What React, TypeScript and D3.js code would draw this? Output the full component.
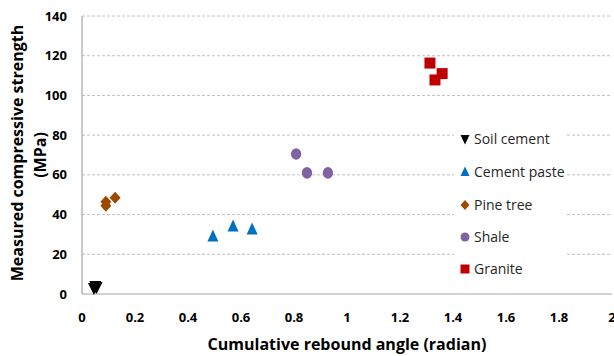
import React from "react";
import * as d3 from "d3";

const xTicks = [0, 0.2, 0.4, 0.6, 0.8, 1, 1.2, 1.4, 1.6, 1.8, 2];
const yTicks = [0, 20, 40, 60, 80, 100, 120, 140];

const soilCement = [[0.045, 3], [0.05, 4], [0.055, 3.5]];
const cementPaste = [[0.494, 29], [0.57, 34], [0.642, 32.5]];
const pineTree = [[0.09, 46.5], [0.09, 44.5], [0.125, 48.5]];
const shale = [[0.808, 70.5], [0.849, 61], [0.928, 61]];
const granite = [[1.313, 116.3], [1.359, 111], [1.332, 107.8]];

const seriesNames = ["Soil cement", "Cement paste", "Pine tree", "Shale", "Granite"];
const seriesColors = ["#000000", "#0070c0", "#9c4a00", "#8064a2", "#c00000"];
const seriesSymbols = ["triDown", "triUp", "diamond", "circle", "square"];

const W = 614, H = 356;
const x = d3.scaleLinear().domain([0, 2]).range([82, 612]);
const y = d3.scaleLinear().domain([0, 140]).range([294, 16]);

function Marker({ kind, cx, cy, color }: { kind: string; cx: number; cy: number; color: string }) {
  if (kind === "square") return <rect x={cx - 5.5} y={cy - 5.5} width={11} height={11} fill={color} />;
  if (kind === "circle") return <ellipse cx={cx} cy={cy} rx={5.2} ry={5.8} fill={color} />;
  if (kind === "diamond") return <path d={`M${cx},${cy - 6}L${cx + 5.5},${cy}L${cx},${cy + 6}L${cx - 5.5},${cy}Z`} fill={color} />;
  if (kind === "triUp") return <path d={`M${cx},${cy - 7}L${cx + 5.5},${cy + 5}L${cx - 5.5},${cy + 5}Z`} fill={color} />;
  return <path d={`M${cx - 6},${cy - 5}L${cx + 6},${cy - 5}L${cx},${cy + 7}Z`} fill={color} />;
}

function LegendMarker({ kind, cx, cy, color }: { kind: string; cx: number; cy: number; color: string }) {
  if (kind === "square") return <rect x={cx - 4.5} y={cy - 4.5} width={9} height={9} fill={color} />;
  if (kind === "circle") return <circle cx={cx} cy={cy} r={4.5} fill={color} />;
  if (kind === "diamond") return <path d={`M${cx},${cy - 5}L${cx + 4.5},${cy}L${cx},${cy + 5}L${cx - 4.5},${cy}Z`} fill={color} />;
  if (kind === "triUp") return <path d={`M${cx},${cy - 5.5}L${cx + 4.5},${cy + 4}L${cx - 4.5},${cy + 4}Z`} fill={color} />;
  return <path d={`M${cx - 4.5},${cy - 4}L${cx + 4.5},${cy - 4}L${cx},${cy + 5.5}Z`} fill={color} />;
}

export default function App() {
  const data = [soilCement, cementPaste, pineTree, shale, granite];
  const font = "'Open Sans', 'Liberation Sans', sans-serif";
  const legendY = [139, 172, 205, 237, 269];
  return (
    <svg width={W} height={H} style={{ position: "absolute", left: 0, top: 0, background: "#fff" }} fontFamily={font}>
      {yTicks.filter((t) => t > 0).map((t) => (
        <line key={t} x1={x(0)} x2={x(2)} y1={y(t)} y2={y(t)} stroke="#c0c0c0" strokeWidth={1} strokeDasharray="3,2" />
      ))}
      <line x1={x(0)} x2={x(0)} y1={y(140)} y2={y(0)} stroke="#a6a6a6" strokeWidth={1.2} />
      <line x1={x(0)} x2={x(2)} y1={y(0)} y2={y(0)} stroke="#a6a6a6" strokeWidth={1.2} />
      {yTicks.map((t) => (
        <text key={t} x={67} y={y(t)} dy="0.35em" textAnchor="end" fontSize={13} fontWeight="bold" fill="#000">{t}</text>
      ))}
      {xTicks.map((t) => (
        <text key={t} x={x(t)} y={317} dy="0.35em" textAnchor="middle" fontSize={13} fontWeight="bold" fill="#000">{t}</text>
      ))}
      <text x={347} y={350} textAnchor="middle" fontSize={16} fontWeight="bold" fill="#000">Cumulative rebound angle (radian)</text>
      <text transform="translate(23,153) rotate(-90)" textAnchor="middle" fontSize={16} fontWeight="bold" fill="#000">Measured compressive strength</text>
      <text transform="translate(46,155) rotate(-90)" textAnchor="middle" fontSize={16} fontWeight="bold" fill="#000">(MPa)</text>
      <rect x={454} y={122} width={113} height={162} fill="#fff" />
      {data.map((pts, i) =>
        pts.map((p, j) => (
          <Marker key={`${i}-${j}`} kind={seriesSymbols[i]} cx={x(p[0])} cy={y(p[1])} color={seriesColors[i]} />
        ))
      )}
      {seriesNames.map((n, i) => (
        <g key={n}>
          <LegendMarker kind={seriesSymbols[i]} cx={465} cy={legendY[i]} color={seriesColors[i]} />
          <text x={474} y={legendY[i]} dy="0.35em" fontSize={14} fill="#262626">{n}</text>
        </g>
      ))}
    </svg>
  );
}
